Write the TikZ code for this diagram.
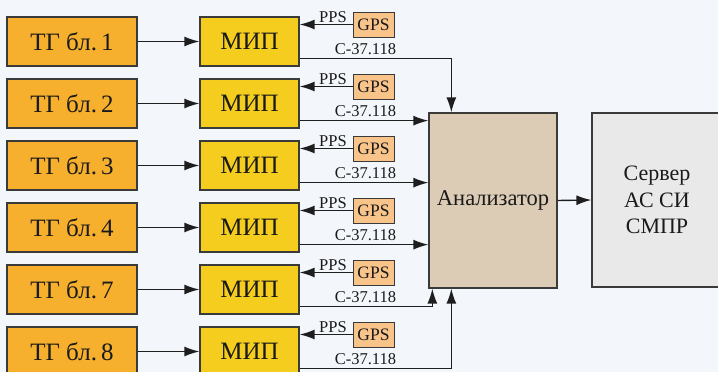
\documentclass[tikz,border=0pt]{standalone}
\usepackage{fontspec}
\setmainfont{Liberation Serif}
\newfontfamily\diagfont{Liberation Serif}
\usetikzlibrary{arrows.meta}
\definecolor{bgc}{HTML}{F3F6FA}
\definecolor{tgc}{HTML}{F6B02E}
\definecolor{mipc}{HTML}{F5CD1E}
\definecolor{gpsc}{HTML}{F9C48A}
\definecolor{anc}{HTML}{DCCCB6}
\definecolor{srvc}{HTML}{E9E9E9}
\definecolor{bordc}{HTML}{3A3A3A}
\definecolor{arrc}{HTML}{1E1E1E}
\definecolor{txtc}{HTML}{1A1A1A}
\begin{document}
\begin{tikzpicture}[x=1pt,y=-1pt,
  box/.style={draw=bordc, line width=1.3pt, inner sep=0pt, align=center, text=txtc},
  tgbox/.style={box, fill=tgc, minimum width=130pt, minimum height=49pt, font=\diagfont\fontsize{25}{30}\selectfont},
  mipbox/.style={box, fill=mipc, minimum width=99pt, minimum height=49pt, font=\diagfont\fontsize{25}{30}\selectfont},
  gpsbox/.style={box, fill=gpsc, line width=0.9pt, minimum width=41pt, minimum height=25pt, font=\diagfont\fontsize{17.5}{20}\selectfont},
  anbox/.style={box, fill=anc, minimum width=128pt, minimum height=175pt, font=\diagfont\fontsize{22.5}{26}\selectfont},
  srvbox/.style={box, fill=srvc, minimum width=130pt, minimum height=174pt, font=\diagfont\fontsize{22}{26.5}\selectfont},
  lbl/.style={inner sep=0pt, text=txtc, font=\diagfont\fontsize{16.5}{19}\selectfont},
  arr/.style={draw=arrc, line width=1.4pt, -{Latex[length=15pt,width=10pt]}},
  ]
\useasboundingbox (0,0) rectangle (718,372);
\fill[bgc] (0,0) rectangle (718,372);
\clip (0,0) rectangle (718,372);

\node[anbox] (an) at (493,200.5) {Анализатор};
\node[srvbox] (srv) at (657,200) {Сервер\\АС СИ\\СМПР};
\draw[arr] (an.east) -- (srv.west);

\foreach \lab [count=\r] in {1,2,3,4,7,8}{
  \pgfmathsetmacro{\top}{17+62*(\r-1)}
  \node[tgbox] (tg\r) at (72,\top+24.5) {ТГ бл.\,\lab};
  \node[mipbox] (mip\r) at (249.5,\top+24.5) {МИП};
  \node[gpsbox] (gps\r) at (373.5,\top+7.5) {GPS};
  \node[lbl, anchor=base] (pps\r) at (333,\top+5) {PPS};
  \node[lbl, anchor=base] (c\r) at (365.5,\top+37) {C-37.118};
  \coordinate (cs\r) at ([yshift=8pt]mip\r.south east);
  \draw[arr] (tg\r) -- (mip\r);
  \draw[arr] (gps\r.west) -- (gps\r.west -| mip\r.east);
}
\draw[arr] (cs1) -| ([xshift=23pt]an.north west);
\draw[arr] (cs2) -- (cs2 -| an.west);
\draw[arr] (cs3) -- (cs3 -| an.west);
\draw[arr] (cs4) -- (cs4 -| an.west);
\draw[arr] (cs5) -| ([xshift=4pt]an.south west);
\draw[arr] (cs6) -| ([xshift=23pt]an.south west);
\end{tikzpicture}
\end{document}
